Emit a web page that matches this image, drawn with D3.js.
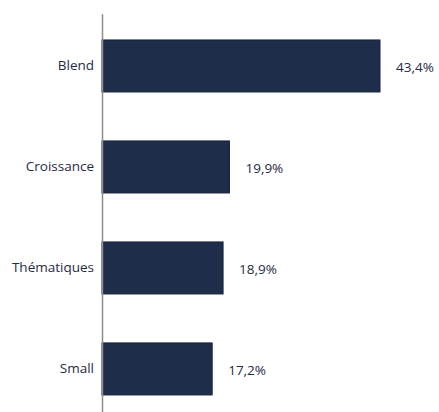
<!DOCTYPE html>
<html>
<head>
<meta charset="utf-8">
<script src="https://cdn.jsdelivr.net/npm/d3@7"></script>
<style>
  body { margin: 0; background: #fff; }
</style>
</head>
<body>
<div id="chart"></div>
<script>
// setting up constants
const FRAME_WIDTH = 439;
const FRAME_HEIGHT = 412;
const AXIS_X = 102;

// data
const CATEGORIES = ["Blend", "Croissance", "Thématiques", "Small"];
const VALUES = [43.4, 19.9, 18.9, 17.2];
const VALUE_LABELS = ["43,4%", "19,9%", "18,9%", "17,2%"];

const FRAME = d3.select("#chart")
  .append("svg")
  .attr("width", FRAME_WIDTH)
  .attr("height", FRAME_HEIGHT);

// scales
const xScale = d3.scaleLinear()
  .domain([0, 43.4])
  .range([AXIS_X, 380]);

const yScale = d3.scaleBand()
  .domain(CATEGORIES)
  .range([13.7, 421.2])
  .paddingInner(0.485)
  .paddingOuter(0.26);

// bars
FRAME.selectAll(".bar")
  .data(CATEGORIES)
  .enter()
  .append("rect")
  .attr("class", "bar")
  .attr("x", xScale(0))
  .attr("y", (d) => yScale(d))
  .attr("width", (d, i) => xScale(VALUES[i]) - xScale(0))
  .attr("height", yScale.bandwidth())
  .attr("fill", "#1e2d4a")
  .attr("stroke", "#16223a")
  .attr("stroke-width", 1);

// y axis: grey line and category labels
const yAxis = FRAME.append("g")
  .attr("transform", "translate(" + AXIS_X + ",0)")
  .call(d3.axisLeft(yScale).tickSize(0).tickPadding(8));
yAxis.select(".domain")
  .attr("stroke", "#8c8c8c")
  .attr("stroke-width", 1.5);
yAxis.selectAll("text")
  .attr("font-family", "Open Sans, sans-serif")
  .attr("font-size", "13.5px")
  .attr("fill", "#1f2b45");

// value labels
FRAME.selectAll(".val")
  .data(CATEGORIES)
  .enter()
  .append("text")
  .attr("class", "val")
  .attr("x", (d, i) => xScale(VALUES[i]) + 16)
  .attr("y", (d) => yScale(d) + yScale.bandwidth() / 2 + 2)
  .attr("dy", "0.32em")
  .attr("font-family", "Open Sans, sans-serif")
  .attr("font-size", "13.5px")
  .attr("fill", "#1f2b45")
  .text((d, i) => VALUE_LABELS[i]);
</script>
</body>
</html>
